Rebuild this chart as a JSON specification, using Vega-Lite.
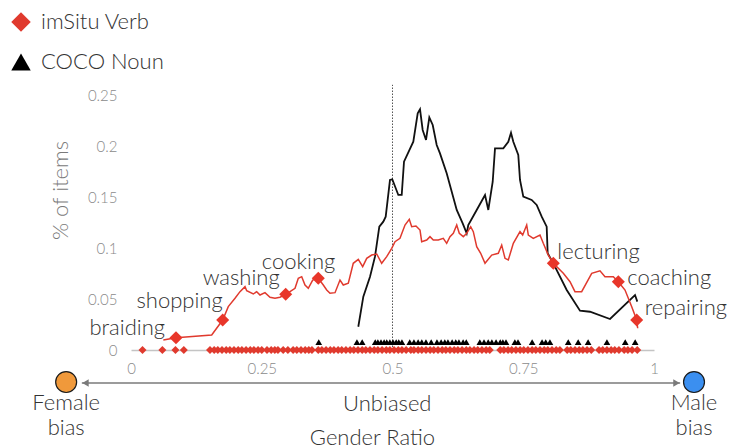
{
  "$schema": "https://vega.github.io/schema/vega-lite/v6.json",
  "width": 523,
  "height": 255,
  "autosize": {"type": "none"},
  "padding": {"left": 131, "top": 95, "right": 79, "bottom": 98},
  "background": "white",
  "config": {"view": {"stroke": null}, "font": "Lato"},
  "datasets": {
    "red": [
      {"x":0.0618,"y":0.0098},{"x":0.086,"y":0.0121},{"x":0.1543,"y":0.0147},{"x":0.1753,"y":0.0294},{"x":0.186,"y":0.0425},{"x":0.1989,"y":0.0507},{"x":0.2084,"y":0.0572},{"x":0.218,"y":0.0621},{"x":0.2212,"y":0.0581},{"x":0.2338,"y":0.0549},{"x":0.2403,"y":0.0572},{"x":0.2467,"y":0.0539},{"x":0.2562,"y":0.0562},{"x":0.2658,"y":0.0517},{"x":0.2753,"y":0.0507},{"x":0.2849,"y":0.0517},{"x":0.2958,"y":0.0546},{"x":0.304,"y":0.0572},{"x":0.3136,"y":0.0605},{"x":0.3199,"y":0.0703},{"x":0.3264,"y":0.0719},{"x":0.3327,"y":0.0637},{"x":0.339,"y":0.0605},{"x":0.3474,"y":0.0686},{"x":0.3581,"y":0.0703},{"x":0.3677,"y":0.0637},{"x":0.3742,"y":0.0588},{"x":0.3805,"y":0.0556},{"x":0.3901,"y":0.0562},{"x":0.3996,"y":0.0686},{"x":0.4059,"y":0.0637},{"x":0.4155,"y":0.0654},{"x":0.425,"y":0.085},{"x":0.4346,"y":0.0889},{"x":0.443,"y":0.0817},{"x":0.4507,"y":0.0899},{"x":0.4602,"y":0.0931},{"x":0.4698,"y":0.0941},{"x":0.4793,"y":0.085},{"x":0.4889,"y":0.0915},{"x":0.4985,"y":0.0997},{"x":0.5048,"y":0.1062},{"x":0.5143,"y":0.1095},{"x":0.5239,"y":0.1225},{"x":0.5321,"y":0.1281},{"x":0.5367,"y":0.1209},{"x":0.5449,"y":0.1216},{"x":0.5526,"y":0.1176},{"x":0.5558,"y":0.1062},{"x":0.5654,"y":0.1078},{"x":0.5717,"y":0.1111},{"x":0.578,"y":0.1078},{"x":0.5876,"y":0.1078},{"x":0.5971,"y":0.1095},{"x":0.6036,"y":0.1046},{"x":0.6099,"y":0.1111},{"x":0.6163,"y":0.1144},{"x":0.6228,"y":0.1225},{"x":0.6277,"y":0.1144},{"x":0.6354,"y":0.1111},{"x":0.6419,"y":0.1144},{"x":0.6495,"y":0.1209},{"x":0.6545,"y":0.116},{"x":0.661,"y":0.1013},{"x":0.6686,"y":0.0948},{"x":0.6769,"y":0.085},{"x":0.6897,"y":0.0931},{"x":0.7023,"y":0.0948},{"x":0.7088,"y":0.1029},{"x":0.7151,"y":0.0899},{"x":0.7214,"y":0.0882},{"x":0.731,"y":0.1046},{"x":0.7438,"y":0.116},{"x":0.7489,"y":0.1127},{"x":0.7566,"y":0.1225},{"x":0.7597,"y":0.1127},{"x":0.7692,"y":0.1095},{"x":0.782,"y":0.1127},{"x":0.7883,"y":0.1046},{"x":0.7979,"y":0.0931},{"x":0.8075,"y":0.085},{"x":0.8266,"y":0.0752},{"x":0.8394,"y":0.067},{"x":0.8489,"y":0.0572},{"x":0.8617,"y":0.0572},{"x":0.8809,"y":0.0752},{"x":0.8967,"y":0.0777},{"x":0.9063,"y":0.0719},{"x":0.9222,"y":0.0719},{"x":0.9318,"y":0.067},{"x":0.9446,"y":0.0588},{"x":0.9574,"y":0.0425},{"x":0.9669,"y":0.0294},{"x":0.9688,"y":0.0213}
    ],
    "black": [
      {"x":0.4346,"y":0.0228},{"x":0.4442,"y":0.0523},{"x":0.457,"y":0.0719},{"x":0.4665,"y":0.0915},{"x":0.4748,"y":0.1209},{"x":0.4824,"y":0.1258},{"x":0.487,"y":0.1307},{"x":0.4952,"y":0.1667},{"x":0.4996,"y":0.1674},{"x":0.5111,"y":0.152},{"x":0.5176,"y":0.152},{"x":0.522,"y":0.1846},{"x":0.5398,"y":0.2042},{"x":0.5482,"y":0.2321},{"x":0.5526,"y":0.236},{"x":0.5577,"y":0.2157},{"x":0.5641,"y":0.2059},{"x":0.5704,"y":0.2281},{"x":0.5769,"y":0.2206},{"x":0.5845,"y":0.201},{"x":0.5908,"y":0.1928},{"x":0.6036,"y":0.1732},{"x":0.6228,"y":0.1373},{"x":0.6342,"y":0.1242},{"x":0.6419,"y":0.1144},{"x":0.6449,"y":0.1225},{"x":0.661,"y":0.1373},{"x":0.6769,"y":0.152},{"x":0.6832,"y":0.1373},{"x":0.6916,"y":0.165},{"x":0.696,"y":0.1977},{"x":0.7119,"y":0.1977},{"x":0.7214,"y":0.2042},{"x":0.7266,"y":0.213},{"x":0.731,"y":0.2042},{"x":0.7405,"y":0.1912},{"x":0.7438,"y":0.1667},{"x":0.747,"y":0.1585},{"x":0.7501,"y":0.1503},{"x":0.7661,"y":0.1471},{"x":0.7757,"y":0.1422},{"x":0.7853,"y":0.1307},{"x":0.7948,"y":0.1209},{"x":0.7967,"y":0.0948},{"x":0.8075,"y":0.085},{"x":0.8331,"y":0.0588},{"x":0.8585,"y":0.0385},{"x":0.8776,"y":0.0375},{"x":0.9159,"y":0.0304},{"x":0.9637,"y":0.0539},{"x":0.9681,"y":0.0474}
    ],
    "verbs": [
      {"verb":"braiding","x":0.086,"y":0.0121},
      {"verb":"shopping","x":0.1753,"y":0.0294},
      {"verb":"washing","x":0.2958,"y":0.0546},
      {"verb":"cooking","x":0.3581,"y":0.0703},
      {"verb":"lecturing","x":0.8075,"y":0.085},
      {"verb":"coaching","x":0.9318,"y":0.067},
      {"verb":"repairing","x":0.9669,"y":0.0294}
    ],
    "strip": [
      {"set":"imSitu Verb","x":0.022,"y":0},{"set":"imSitu Verb","x":0.06,"y":0},{"set":"imSitu Verb","x":0.085,"y":0},{"set":"imSitu Verb","x":0.101,"y":0},
      {"set":"imSitu Verb","x":0.151,"y":0},{"set":"imSitu Verb","x":0.159,"y":0},{"set":"imSitu Verb","x":0.166,"y":0},{"set":"imSitu Verb","x":0.174,"y":0},{"set":"imSitu Verb","x":0.182,"y":0},{"set":"imSitu Verb","x":0.189,"y":0},{"set":"imSitu Verb","x":0.197,"y":0},{"set":"imSitu Verb","x":0.205,"y":0},{"set":"imSitu Verb","x":0.212,"y":0},{"set":"imSitu Verb","x":0.22,"y":0},{"set":"imSitu Verb","x":0.228,"y":0},{"set":"imSitu Verb","x":0.235,"y":0},{"set":"imSitu Verb","x":0.243,"y":0},{"set":"imSitu Verb","x":0.25,"y":0},
      {"set":"imSitu Verb","x":0.26,"y":0},{"set":"imSitu Verb","x":0.268,"y":0},{"set":"imSitu Verb","x":0.275,"y":0},{"set":"imSitu Verb","x":0.281,"y":0},
      {"set":"imSitu Verb","x":0.291,"y":0},{"set":"imSitu Verb","x":0.3,"y":0},
      {"set":"imSitu Verb","x":0.31,"y":0},{"set":"imSitu Verb","x":0.317,"y":0},{"set":"imSitu Verb","x":0.325,"y":0},{"set":"imSitu Verb","x":0.333,"y":0},{"set":"imSitu Verb","x":0.34,"y":0},{"set":"imSitu Verb","x":0.346,"y":0},
      {"set":"imSitu Verb","x":0.358,"y":0},{"set":"imSitu Verb","x":0.365,"y":0},{"set":"imSitu Verb","x":0.373,"y":0},{"set":"imSitu Verb","x":0.381,"y":0},{"set":"imSitu Verb","x":0.388,"y":0},{"set":"imSitu Verb","x":0.396,"y":0},{"set":"imSitu Verb","x":0.403,"y":0},{"set":"imSitu Verb","x":0.411,"y":0},{"set":"imSitu Verb","x":0.419,"y":0},{"set":"imSitu Verb","x":0.426,"y":0},{"set":"imSitu Verb","x":0.434,"y":0},{"set":"imSitu Verb","x":0.442,"y":0},{"set":"imSitu Verb","x":0.449,"y":0},{"set":"imSitu Verb","x":0.457,"y":0},{"set":"imSitu Verb","x":0.465,"y":0},{"set":"imSitu Verb","x":0.472,"y":0},{"set":"imSitu Verb","x":0.48,"y":0},{"set":"imSitu Verb","x":0.488,"y":0},{"set":"imSitu Verb","x":0.495,"y":0},{"set":"imSitu Verb","x":0.503,"y":0},{"set":"imSitu Verb","x":0.511,"y":0},{"set":"imSitu Verb","x":0.518,"y":0},{"set":"imSitu Verb","x":0.526,"y":0},{"set":"imSitu Verb","x":0.535,"y":0},{"set":"imSitu Verb","x":0.541,"y":0},{"set":"imSitu Verb","x":0.549,"y":0},{"set":"imSitu Verb","x":0.556,"y":0},{"set":"imSitu Verb","x":0.564,"y":0},{"set":"imSitu Verb","x":0.572,"y":0},{"set":"imSitu Verb","x":0.579,"y":0},{"set":"imSitu Verb","x":0.587,"y":0},{"set":"imSitu Verb","x":0.595,"y":0},{"set":"imSitu Verb","x":0.602,"y":0},{"set":"imSitu Verb","x":0.61,"y":0},{"set":"imSitu Verb","x":0.618,"y":0},{"set":"imSitu Verb","x":0.625,"y":0},{"set":"imSitu Verb","x":0.633,"y":0},{"set":"imSitu Verb","x":0.641,"y":0},{"set":"imSitu Verb","x":0.648,"y":0},{"set":"imSitu Verb","x":0.656,"y":0},{"set":"imSitu Verb","x":0.663,"y":0},{"set":"imSitu Verb","x":0.671,"y":0},{"set":"imSitu Verb","x":0.679,"y":0},{"set":"imSitu Verb","x":0.686,"y":0},
      {"set":"imSitu Verb","x":0.706,"y":0},{"set":"imSitu Verb","x":0.713,"y":0},{"set":"imSitu Verb","x":0.721,"y":0},{"set":"imSitu Verb","x":0.728,"y":0},{"set":"imSitu Verb","x":0.736,"y":0},{"set":"imSitu Verb","x":0.744,"y":0},{"set":"imSitu Verb","x":0.751,"y":0},{"set":"imSitu Verb","x":0.759,"y":0},{"set":"imSitu Verb","x":0.767,"y":0},{"set":"imSitu Verb","x":0.774,"y":0},{"set":"imSitu Verb","x":0.782,"y":0},{"set":"imSitu Verb","x":0.79,"y":0},{"set":"imSitu Verb","x":0.797,"y":0},{"set":"imSitu Verb","x":0.805,"y":0},{"set":"imSitu Verb","x":0.813,"y":0},{"set":"imSitu Verb","x":0.82,"y":0},
      {"set":"imSitu Verb","x":0.834,"y":0},{"set":"imSitu Verb","x":0.841,"y":0},{"set":"imSitu Verb","x":0.849,"y":0},{"set":"imSitu Verb","x":0.857,"y":0},{"set":"imSitu Verb","x":0.864,"y":0},{"set":"imSitu Verb","x":0.872,"y":0},{"set":"imSitu Verb","x":0.88,"y":0},
      {"set":"imSitu Verb","x":0.895,"y":0},{"set":"imSitu Verb","x":0.902,"y":0},{"set":"imSitu Verb","x":0.91,"y":0},{"set":"imSitu Verb","x":0.918,"y":0},{"set":"imSitu Verb","x":0.925,"y":0},{"set":"imSitu Verb","x":0.933,"y":0},
      {"set":"imSitu Verb","x":0.943,"y":0},{"set":"imSitu Verb","x":0.95,"y":0},{"set":"imSitu Verb","x":0.958,"y":0},{"set":"imSitu Verb","x":0.968,"y":0},
      {"set":"COCO Noun","x":0.359,"y":0.0078},{"set":"COCO Noun","x":0.432,"y":0.0078},{"set":"COCO Noun","x":0.442,"y":0.0078},
      {"set":"COCO Noun","x":0.467,"y":0.0078},{"set":"COCO Noun","x":0.472,"y":0.0078},{"set":"COCO Noun","x":0.478,"y":0.0078},{"set":"COCO Noun","x":0.484,"y":0.0078},{"set":"COCO Noun","x":0.489,"y":0.0078},{"set":"COCO Noun","x":0.495,"y":0.0078},{"set":"COCO Noun","x":0.501,"y":0.0078},{"set":"COCO Noun","x":0.507,"y":0.0078},{"set":"COCO Noun","x":0.512,"y":0.0078},{"set":"COCO Noun","x":0.518,"y":0.0078},
      {"set":"COCO Noun","x":0.533,"y":0.0078},{"set":"COCO Noun","x":0.541,"y":0.0078},{"set":"COCO Noun","x":0.549,"y":0.0078},{"set":"COCO Noun","x":0.556,"y":0.0078},{"set":"COCO Noun","x":0.564,"y":0.0078},{"set":"COCO Noun","x":0.574,"y":0.0078},
      {"set":"COCO Noun","x":0.585,"y":0.0078},{"set":"COCO Noun","x":0.593,"y":0.0078},{"set":"COCO Noun","x":0.6,"y":0.0078},
      {"set":"COCO Noun","x":0.606,"y":0.0078},{"set":"COCO Noun","x":0.614,"y":0.0078},{"set":"COCO Noun","x":0.621,"y":0.0078},{"set":"COCO Noun","x":0.627,"y":0.0078},{"set":"COCO Noun","x":0.635,"y":0.0078},{"set":"COCO Noun","x":0.641,"y":0.0078},
      {"set":"COCO Noun","x":0.667,"y":0.0078},{"set":"COCO Noun","x":0.675,"y":0.0078},{"set":"COCO Noun","x":0.683,"y":0.0078},{"set":"COCO Noun","x":0.69,"y":0.0078},{"set":"COCO Noun","x":0.698,"y":0.0078},{"set":"COCO Noun","x":0.706,"y":0.0078},{"set":"COCO Noun","x":0.711,"y":0.0078},{"set":"COCO Noun","x":0.717,"y":0.0078},
      {"set":"COCO Noun","x":0.734,"y":0.0078},{"set":"COCO Noun","x":0.74,"y":0.0078},{"set":"COCO Noun","x":0.767,"y":0.0078},
      {"set":"COCO Noun","x":0.786,"y":0.0078},{"set":"COCO Noun","x":0.793,"y":0.0078},{"set":"COCO Noun","x":0.801,"y":0.0078},
      {"set":"COCO Noun","x":0.836,"y":0.0078},{"set":"COCO Noun","x":0.855,"y":0.0078},{"set":"COCO Noun","x":0.874,"y":0.0078},{"set":"COCO Noun","x":0.91,"y":0.0078},{"set":"COCO Noun","x":0.945,"y":0.0078},{"set":"COCO Noun","x":0.964,"y":0.0078}
    ],
    "ends": [
      {"side":"Female bias","x":-0.124,"y":-0.0314},
      {"side":"Male bias","x":1.0765,"y":-0.0314}
    ],
    "arrow": [
      {"x":-0.094,"x2":1.05,"y":-0.0324}
    ],
    "heads": [
      {"dir":"left","x":-0.087,"y":-0.0324},
      {"dir":"right","x":1.043,"y":-0.0324}
    ],
    "center": [
      {"label":"Unbiased","x":0.49,"y":-0.053}
    ],
    "parity": [
      {"x":0.5,"y":0,"y2":0.26}
    ]
  },
  "encoding": {
    "x": {
      "field": "x", "type": "quantitative",
      "scale": {"domain": [0, 1], "nice": false, "zero": false},
      "axis": {
        "values": [0, 0.25, 0.5, 0.75, 1], "format": ".2~f",
        "ticks": false, "grid": false, "labelFlush": false,
        "domainColor": "#c4c4c4", "domainWidth": 1.3,
        "labelPadding": 11, "labelFontSize": 15, "labelColor": "#8a8a8a", "labelFontWeight": 300,
        "title": "Gender Ratio", "titleFontSize": 22, "titleFontWeight": 300, "titleColor": "#333333",
        "titleX": 241, "titleY": 87, "titleBaseline": "middle", "titleAlign": "center"
      }
    },
    "y": {
      "field": "y", "type": "quantitative",
      "scale": {"domain": [0, 0.25], "nice": false},
      "axis": {
        "values": [0, 0.05, 0.1, 0.15, 0.2, 0.25], "format": ".2~f",
        "ticks": false, "grid": false, "domain": false,
        "labelPadding": 14, "labelFontSize": 15, "labelColor": "#8a8a8a", "labelFontWeight": 300,
        "title": "% of items", "titleFontSize": 22, "titleFontWeight": 300, "titleColor": "#7a7a7a",
        "titleX": -71, "titleY": 95, "titleBaseline": "middle", "titleAlign": "center"
      }
    }
  },
  "layer": [
    {
      "data": {"name": "parity"},
      "mark": {"type": "rule", "color": "#555555", "strokeDash": [1.5, 1.5], "strokeWidth": 1},
      "encoding": {"y2": {"field": "y2"}}
    },
    {
      "data": {"name": "strip"},
      "transform": [{"filter": "datum.set === 'imSitu Verb'"}],
      "mark": {"type": "point", "filled": true, "size": 64, "opacity": 1},
      "encoding": {
        "color": {
          "field": "set", "type": "nominal",
          "scale": {"domain": ["imSitu Verb", "COCO Noun"], "range": ["#e03a2e", "#000000"]},
          "legend": {
            "orient": "none", "legendX": -121, "legendY": -84, "title": null, "padding": 0,
            "symbolSize": 380, "symbolStrokeWidth": 0, "labelFontSize": 22, "labelFontWeight": 300,
            "labelColor": "#333333", "labelOffset": 9, "rowPadding": 18
          }
        },
        "shape": {
          "field": "set", "type": "nominal",
          "scale": {"domain": ["imSitu Verb", "COCO Noun"], "range": ["diamond", "triangle-up"]},
          "legend": {
            "orient": "none", "legendX": -121, "legendY": -84, "title": null, "padding": 0,
            "symbolSize": 380, "symbolStrokeWidth": 0, "labelFontSize": 22, "labelFontWeight": 300,
            "labelColor": "#333333", "labelOffset": 9, "rowPadding": 18
          }
        }
      }
    },
    {
      "data": {"name": "strip"},
      "transform": [{"filter": "datum.set === 'COCO Noun'"}],
      "mark": {"type": "point", "filled": true, "size": 45, "opacity": 1},
      "encoding": {
        "color": {"field": "set", "type": "nominal"},
        "shape": {"field": "set", "type": "nominal"}
      }
    },
    {
      "data": {"name": "black"},
      "mark": {"type": "line", "color": "#111111", "strokeWidth": 1.8},
      "encoding": {}
    },
    {
      "data": {"name": "red"},
      "mark": {"type": "line", "color": "#e03a2e", "strokeWidth": 1.5},
      "encoding": {}
    },
    {
      "data": {"name": "verbs"},
      "mark": {"type": "point", "shape": "diamond", "filled": true, "size": 170, "color": "#e8362a", "opacity": 1},
      "encoding": {}
    },
    {
      "data": {"name": "verbs"},
      "transform": [{"filter": "datum.verb === 'braiding'"}],
      "mark": {"type": "text", "align": "right", "baseline": "middle", "dx": -11, "dy": -10, "fontSize": 22, "fontWeight": 300, "color": "#333333"},
      "encoding": {"text": {"field": "verb"}}
    },
    {
      "data": {"name": "verbs"},
      "transform": [{"filter": "datum.verb === 'shopping'"}],
      "mark": {"type": "text", "align": "right", "baseline": "middle", "dx": 0, "dy": -19, "fontSize": 22, "fontWeight": 300, "color": "#333333"},
      "encoding": {"text": {"field": "verb"}}
    },
    {
      "data": {"name": "verbs"},
      "transform": [{"filter": "datum.verb === 'washing'"}],
      "mark": {"type": "text", "align": "right", "baseline": "middle", "dx": -6, "dy": -16, "fontSize": 22, "fontWeight": 300, "color": "#333333"},
      "encoding": {"text": {"field": "verb"}}
    },
    {
      "data": {"name": "verbs"},
      "transform": [{"filter": "datum.verb === 'cooking'"}],
      "mark": {"type": "text", "align": "right", "baseline": "middle", "dx": 17, "dy": -16, "fontSize": 22, "fontWeight": 300, "color": "#333333"},
      "encoding": {"text": {"field": "verb"}}
    },
    {
      "data": {"name": "verbs"},
      "transform": [{"filter": "datum.verb === 'lecturing'"}],
      "mark": {"type": "text", "align": "left", "baseline": "middle", "dx": 4, "dy": -11, "fontSize": 22, "fontWeight": 300, "color": "#333333"},
      "encoding": {"text": {"field": "verb"}}
    },
    {
      "data": {"name": "verbs"},
      "transform": [{"filter": "datum.verb === 'coaching'"}],
      "mark": {"type": "text", "align": "left", "baseline": "middle", "dx": 9, "dy": -4, "fontSize": 22, "fontWeight": 300, "color": "#333333"},
      "encoding": {"text": {"field": "verb"}}
    },
    {
      "data": {"name": "verbs"},
      "transform": [{"filter": "datum.verb === 'repairing'"}],
      "mark": {"type": "text", "align": "left", "baseline": "middle", "dx": 8, "dy": -12, "fontSize": 22, "fontWeight": 300, "color": "#333333"},
      "encoding": {"text": {"field": "verb"}}
    },
    {
      "data": {"name": "arrow"},
      "mark": {"type": "rule", "color": "#7a7a7a", "strokeWidth": 1.5},
      "encoding": {"x2": {"field": "x2"}}
    },
    {
      "data": {"name": "heads"},
      "transform": [{"filter": "datum.dir === 'left'"}],
      "mark": {"type": "point", "shape": "triangle-left", "filled": true, "size": 55, "color": "#7a7a7a", "opacity": 1},
      "encoding": {}
    },
    {
      "data": {"name": "heads"},
      "transform": [{"filter": "datum.dir === 'right'"}],
      "mark": {"type": "point", "shape": "triangle-right", "filled": true, "size": 55, "color": "#7a7a7a", "opacity": 1},
      "encoding": {}
    },
    {
      "data": {"name": "ends"},
      "mark": {"type": "point", "shape": "circle", "filled": true, "size": 440, "stroke": "#1a1a1a", "strokeWidth": 1.2, "opacity": 1},
      "encoding": {
        "fill": {"field": "side", "type": "nominal", "scale": {"domain": ["Female bias", "Male bias"], "range": ["#f0993b", "#3b8ff0"]}, "legend": null}
      }
    },
    {
      "data": {"name": "ends"},
      "mark": {"type": "text", "align": "center", "baseline": "top", "dy": 11, "fontSize": 22, "fontWeight": 300, "color": "#333333", "lineBreak": " ", "lineHeight": 25},
      "encoding": {"text": {"field": "side"}}
    },
    {
      "data": {"name": "center"},
      "mark": {"type": "text", "align": "center", "baseline": "middle", "fontSize": 22, "fontWeight": 300, "color": "#333333"},
      "encoding": {"text": {"field": "label"}}
    }
  ]
}
